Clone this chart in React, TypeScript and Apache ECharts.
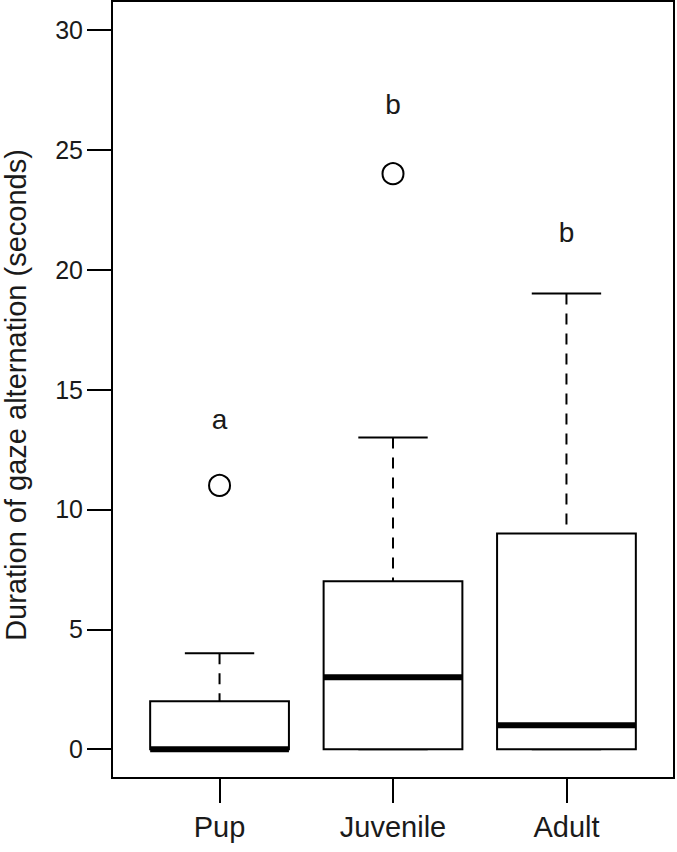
import React, { useEffect, useRef } from "react";
import * as echarts from "echarts";

const categories = ["Pup", "Juvenile", "Adult"];
const whiskerLow = [0, 0, 0];
const q1 = [0, 0, 0];
const median = [0, 3, 1];
const q3 = [2, 7, 9];
const whiskerHigh = [4, 13, 19];
const outlierGroup = [1, 2];
const outlierValue = [11, 24];
const letters = ["a", "b", "b"];
const letterY = [13.75, 26.9, 21.55];
const yTicks = [0, 5, 10, 15, 20, 25, 30];
const yTitle = "Duration of gaze alternation (seconds)";

const FONT = "'Liberation Sans', Arial, Helvetica, sans-serif";
const TEXT = "#1a1a1a";

export default function App() {
  const ref = useRef<HTMLDivElement>(null);
  useEffect(() => {
    if (!ref.current) return;
    const chart = echarts.init(ref.current, null, { renderer: "svg" });
    const boxData = categories.map((_, i) => [
      i + 1,
      whiskerLow[i],
      q1[i],
      median[i],
      q3[i],
      whiskerHigh[i],
    ]);
    const option: any = {
      animation: false,
      backgroundColor: "#fff",
      grid: {
        left: 112,
        right: 3,
        top: 1,
        bottom: 74,
        show: true,
        containLabel: false,
        outerBoundsMode: "none",
        borderColor: "#000",
        borderWidth: 2,
        backgroundColor: "transparent",
      },
      xAxis: {
        type: "value",
        min: 0.38,
        max: 3.62,
        splitLine: { show: false },
        axisLine: { show: true, onZero: false, lineStyle: { color: "#000", width: 2 } },
        axisTick: {
          show: true,
          length: 25,
          customValues: [1, 2, 3],
          lineStyle: { color: "#000", width: 2 },
        },
        axisLabel: {
          customValues: [1, 2, 3],
          formatter: (v: number) => categories[Math.round(v) - 1] ?? "",
          fontSize: 29,
          fontFamily: FONT,
          color: TEXT,
          margin: 34,
        },
      },
      yAxis: {
        type: "value",
        min: -1.2,
        max: 31.2,
        name: yTitle,
        nameLocation: "middle",
        nameRotate: 90,
        nameGap: 82,
        nameTextStyle: { fontSize: 29, fontFamily: FONT, color: TEXT, padding: [0, 11, 0, 0] },
        splitLine: { show: false },
        axisLine: { show: true, onZero: false, lineStyle: { color: "#000", width: 2 } },
        axisTick: {
          show: true,
          length: 25,
          customValues: yTicks,
          lineStyle: { color: "#000", width: 2 },
        },
        axisLabel: {
          customValues: yTicks,
          fontSize: 25,
          fontFamily: FONT,
          color: TEXT,
          margin: 29,
        },
      },
      series: [
        {
          type: "custom",
          data: boxData,
          encode: { x: 0, y: [1, 2, 3, 4, 5] },
          clip: false,
          renderItem: (params: any, api: any) => {
            const x = api.value(0);
            const lo = api.value(1);
            const b1 = api.value(2);
            const md = api.value(3);
            const b3 = api.value(4);
            const hi = api.value(5);
            const p = (xx: number, yy: number) => api.coord([xx, yy]);
            const line = (a: number[], b: number[], w: number, dash?: number[]) => ({
              type: "line",
              shape: { x1: a[0], y1: a[1], x2: b[0], y2: b[1] },
              style: { stroke: "#000", lineWidth: w, lineDash: dash, lineCap: "butt" },
            });
            const children: any[] = [];
            if (hi !== b3) children.push(line(p(x, hi), p(x, b3), 2, [11, 9]));
            if (lo !== b1) children.push(line(p(x, lo), p(x, b1), 2, [11, 9]));
            children.push(line(p(x - 0.2, hi), p(x + 0.2, hi), 2));
            children.push(line(p(x - 0.2, lo), p(x + 0.2, lo), 2));
            const tl = p(x - 0.4, b3);
            const br = p(x + 0.4, b1);
            children.push({
              type: "rect",
              shape: { x: tl[0], y: tl[1], width: br[0] - tl[0], height: br[1] - tl[1] },
              style: { fill: "#fff", stroke: "#000", lineWidth: 2 },
            });
            children.push(line(p(x - 0.4, md), p(x + 0.4, md), 6));
            return { type: "group", children };
          },
          z: 2,
        },
        {
          type: "scatter",
          data: outlierGroup.map((g, i) => [g, outlierValue[i]]),
          symbol: "circle",
          symbolSize: 21,
          itemStyle: { color: "rgba(0,0,0,0)", borderColor: "#000", borderWidth: 2, opacity: 1 },
          z: 3,
        },
        {
          type: "scatter",
          data: letters.map((t, i) => [i + 1, letterY[i], t]),
          symbolSize: 0,
          itemStyle: { opacity: 1 },
          label: {
            show: true,
            position: "inside",
            formatter: (pr: any) => pr.data[2],
            fontSize: 28,
            fontFamily: FONT,
            color: TEXT,
            opacity: 1,
          },
          z: 3,
        },
      ],
    };
    chart.setOption(option);
    return () => chart.dispose();
  }, []);
  return (
    <div
      ref={ref}
      style={{ position: "absolute", left: 0, top: 0, width: 677, height: 852 }}
    />
  );
}
